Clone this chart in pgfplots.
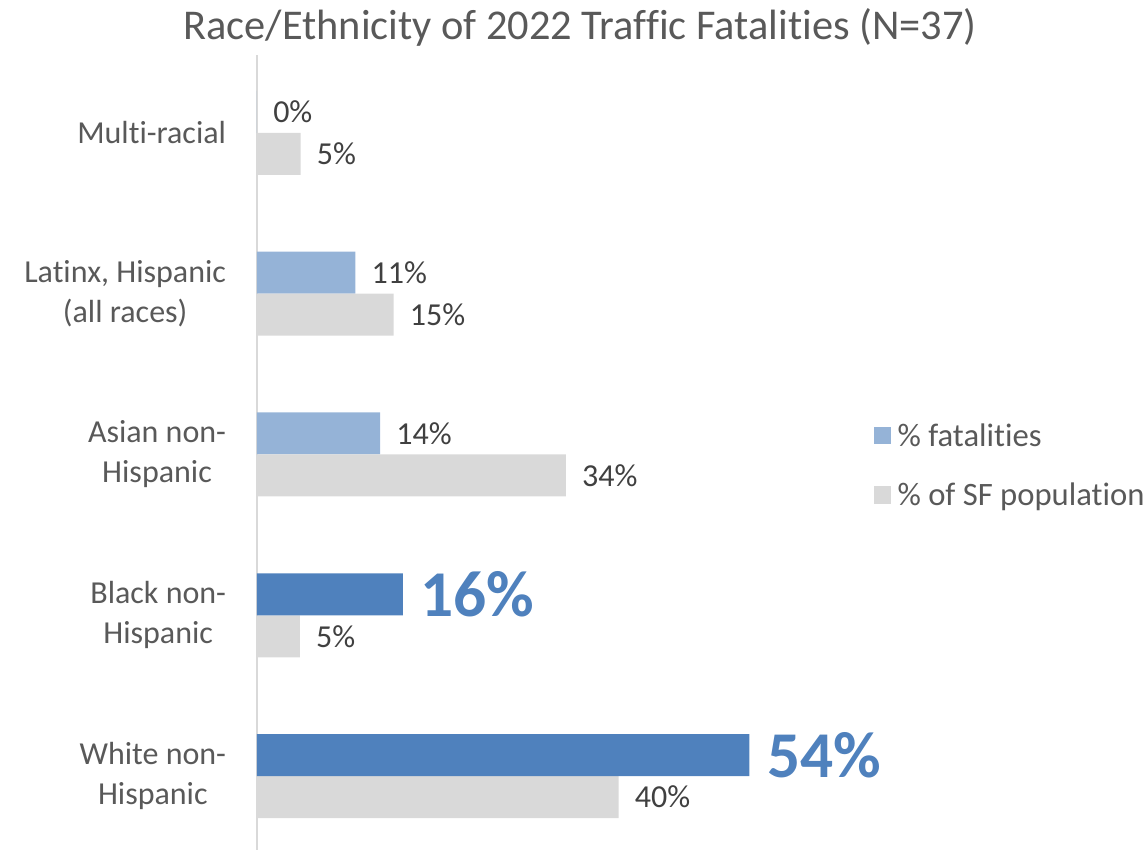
\documentclass[border=0pt]{standalone}
\usepackage{pgfplots}
\pgfplotsset{compat=1.18}
\usepackage{fontspec}
\setmainfont{Carlito}[Ligatures=NoCommon]
\definecolor{darkblue}{HTML}{4F81BD}
\definecolor{lightblue}{HTML}{95B3D7}
\definecolor{popgray}{HTML}{D9D9D9}
\definecolor{labgray}{HTML}{404040}
\definecolor{txtgray}{HTML}{595959}
\begin{document}
\begin{tikzpicture}[x=1pt,y=1pt]
	\path[use as bounding box] (-192.75,-1.5) rectangle (667.5,637.5);
	\begin{axis}[
		at={(0,0)}, anchor=south west,
		scale only axis,
		width=410pt, height=596.25pt,
		xbar, bar width=31.5pt,
		xmin=0, xmax=60,
		ymin=-0.46, ymax=4.485,
		axis x line=none,
		axis y line=left,
		y axis line style={popgray, line width=1pt, -},
		ytick={0,1,2,3,4},
		yticklabels={White non-\\Hispanic, Black non-\\Hispanic, Asian non-\\Hispanic, {Latinx, Hispanic\\(all races)}, Multi-racial},
		major tick length=0pt,
		yticklabel style={align=center, anchor=east, inner sep=0pt, xshift=-23pt,
			font=\fontsize{24}{30}\selectfont, text=txtgray},
		point meta=x,
		/pgf/number format/.cd, fixed, precision=0, assume math mode=true, /pgfplots/.cd,
		nodes near coords={\pgfmathprintnumber{\pgfplotspointmeta}\%},
		nodes near coords style={anchor=west, inner sep=0pt, xshift=12pt,
			font=\fontsize{24}{30}\selectfont, text=labgray},
		legend style={at={(axis description cs:1.12,0.543)}, anchor=north west,
			draw=none, fill=none, font=\fontsize{24.5}{30}\selectfont, text=txtgray,
			row sep=22pt, /tikz/every even column/.append style={column sep=4pt},
			/tikz/every odd column/.append style={column sep=3pt}},
		legend cell align=left,
		area legend,
		legend image code/.code={\fill[#1] (0pt,-6pt) rectangle (13pt,7pt);},
	]
		% % fatalities, light bars
		\addplot[draw=none, fill=lightblue, bar shift=15.75pt] coordinates {
			(13.51,2) (10.8,3) (0,4)
		};
		\addlegendentry{\% fatalities}
		% % of SF population
		\addplot[draw=none, fill=popgray, bar shift=-15.75pt] coordinates {
			(39.7,0) (4.7,1) (33.9,2) (15.0,3) (4.8,4)
		};
		\addlegendentry{\% of SF population}
		% % fatalities, highlighted bars
		\addplot[draw=none, fill=darkblue, bar shift=15.75pt, forget plot,
			nodes near coords style={font=\bfseries\fontsize{49}{54}\selectfont, text=darkblue, xshift=1pt}] coordinates {
			(54.05,0) (16.0,1)
		};
	\end{axis}
	\node[text=txtgray, font=\fontsize{31.8}{36}\selectfont] at (242.25,617.25) {Race/Ethnicity of 2022 Traffic Fatalities (N=37)};
\end{tikzpicture}
\end{document}
